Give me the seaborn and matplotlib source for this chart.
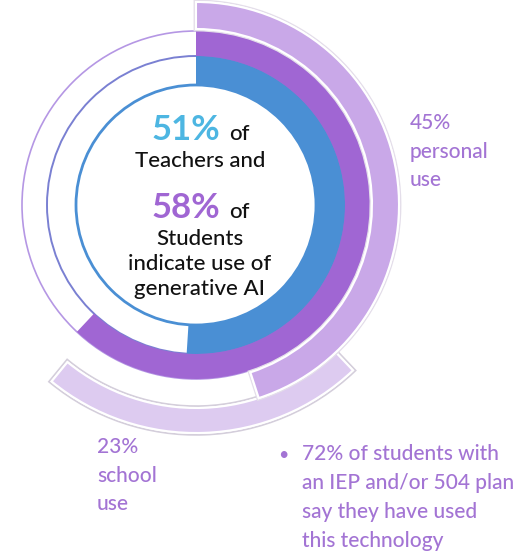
import matplotlib
matplotlib.use("Agg")
import matplotlib.pyplot as plt
import matplotlib.patheffects as pe
import seaborn as sns

# ring data (percent); arcs drawn clockwise from 12 o'clock
ring_names = ["Teachers", "Students", "Personal use", "School use"]
ring_pct = [51, 58, 45, 23]
# arc length as drawn in the source graphic (students ring is drawn longer than its label)
arc_pct = [51, 62, 45, 23]
ring_colors = ["#4A8FD4", "#A066D3", "#C9A8E8", "#DDCBF0"]

center_lines = ["Teachers and", "Students", "indicate use of", "generative AI"]
personal_lines = ["45%", "personal", "use"]
school_lines = ["23%", "school", "use"]
note_lines = ["72% of students with", "an IEP and/or 504 plan",
              "say they have used", "this technology"]

sns.set_theme(style="white")
plt.rcParams['font.family'] = ['Lato', 'DejaVu Sans']

W, H = 530, 554
fig = plt.figure(figsize=(W / 100, H / 100), dpi=100)
ax = fig.add_axes([0, 0, 1, 1])

cx, cy = 196, H - 205
# (outer radius, inner radius, start angle clockwise from top)
ring_geom = [(149, 120, 0), (174, 149, 0), (203, 176, 0), (228, 203, 136.5)]

# outline of the empty tracks
ax.add_patch(plt.Circle((cx, cy), 120, fill=False, ec="#4A8FD4", lw=2, zorder=1))
ax.add_patch(plt.Circle((cx, cy), 149, fill=False, ec="#7A80D2", lw=1.4, zorder=1))
ax.add_patch(plt.Circle((cx, cy), 174, fill=False, ec="#B597E4", lw=1.2, zorder=1))

for (r_out, r_in, start), pct, col, name in zip(ring_geom, arc_pct, ring_colors, ring_names):
    ec = "none" if name in ("Teachers", "Students") else "white"
    wedges, _ = ax.pie([pct / 100], normalize=False, radius=r_out, center=(cx, cy),
                       startangle=90 - start, counterclock=False, colors=[col],
                       frame=True,
                       wedgeprops=dict(width=r_out - r_in, edgecolor=ec, linewidth=1.5))
    for w in wedges:
        w.set_zorder(2)
        if name == "School use":
            w.set_path_effects([pe.withStroke(linewidth=4, foreground="#D4CEDB"), pe.Normal()])
            w.set_zorder(1.5)
        elif name == "Personal use":
            w.set_path_effects([pe.withStroke(linewidth=3.5, foreground="#E4DEEA"), pe.Normal()])

# centre text
blue_txt = "#4DB6E2"
purple_txt = "#A066D3"
label_col = "#A374D4"
ax.text(220, H - 140, f"{ring_pct[0]}%", ha="right", va="baseline", fontsize=25,
        fontweight="bold", color=blue_txt)
ax.text(229, H - 140, "of", ha="left", va="baseline", fontsize=16,
        fontweight="medium", color="#111111")
ax.text(220, H - 218, f"{ring_pct[1]}%", ha="right", va="baseline", fontsize=25,
        fontweight="bold", color=purple_txt)
ax.text(229, H - 218, "of", ha="left", va="baseline", fontsize=16,
        fontweight="medium", color="#111111")
for txt, yb in zip(center_lines, [167, 245, 270, 295]):
    ax.text(200, H - yb, txt, ha="center", va="baseline", fontsize=16,
            fontweight="medium", color="#111111")

for i, txt in enumerate(personal_lines):
    ax.text(410, H - (129 + 28.5 * i), txt, ha="left", va="baseline", fontsize=15,
            fontweight="medium", color=label_col)
for i, txt in enumerate(school_lines):
    ax.text(97, H - (453 + 28.5 * i), txt, ha="left", va="baseline", fontsize=15,
            fontweight="medium", color=label_col)

ax.text(278, H - 460, "\u2022", ha="left", va="baseline", fontsize=13, color=label_col)
for i, txt in enumerate(note_lines):
    ax.text(302, H - (460 + 29 * i), txt, ha="left", va="baseline", fontsize=15,
            fontweight="medium", color=label_col)

ax.set_xlim(0, W)
ax.set_ylim(0, H)
ax.set_aspect("equal")
ax.set_axis_off()
fig.savefig("out.png", dpi=100, facecolor="white")
